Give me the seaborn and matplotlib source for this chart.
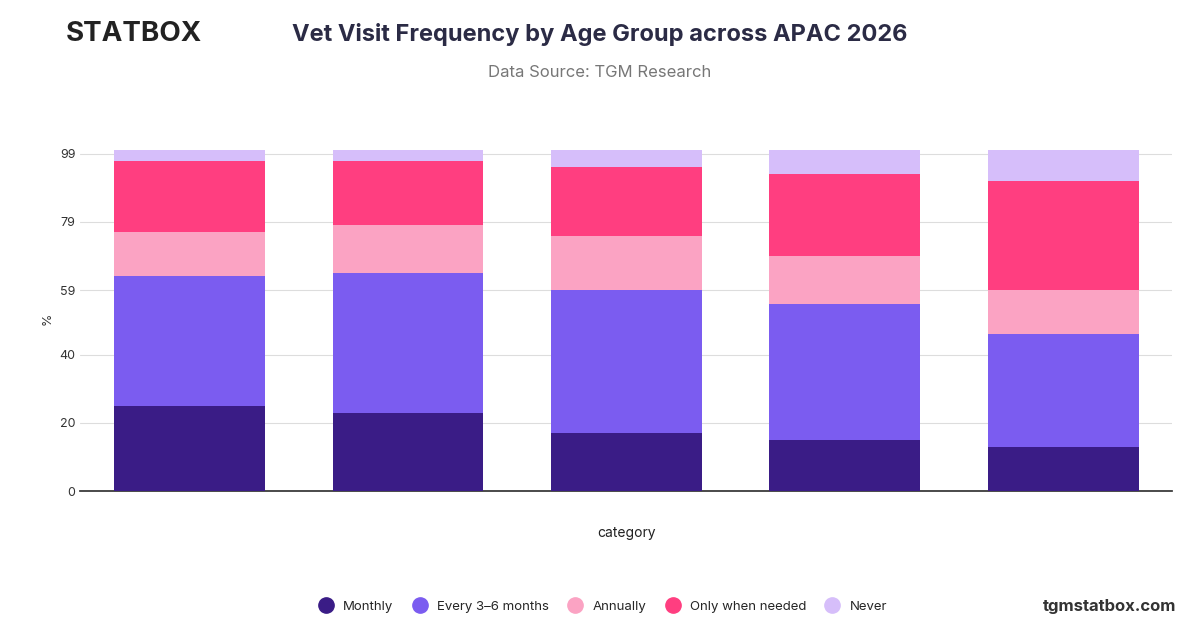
import matplotlib
matplotlib.use("Agg")
import matplotlib.pyplot as plt
import seaborn as sns
import numpy as np
from matplotlib.lines import Line2D

sns.set_theme(style="white")
plt.rcParams['font.family'] = ['Inter', 'DejaVu Sans']

categories = ["A", "B", "C", "D", "E"]
series = ["Monthly", "Every 3–6 months", "Annually", "Only when needed", "Never"]
monthly = [25, 23, 17, 15, 13]
every = [38, 41, 42, 40, 33]
annually = [13, 14, 16, 14, 13]
only_needed = [21, 19, 20, 24, 32]
never = [3, 3, 5, 7, 9]
colors = ["#3a1c86", "#7b5cf0", "#fba3c3", "#ff3e80", "#d6befa"]
yticks = [0, 20, 40, 59, 79, 99]

vals = [monthly, every, annually, only_needed, never]
fig = plt.figure(figsize=(12, 6.28), dpi=100)
ax = fig.add_axes([0.067, 0.218, 0.91, 0.548])
bottom = np.zeros(len(categories))
for name, v, c in zip(series, vals, colors):
    ax.bar(categories, v, bottom=bottom, color=c, width=0.69, label=name, zorder=3, linewidth=0)
    bottom += np.array(v)
ax.set_ylim(0, 101)
ax.set_xlim(-0.5, 4.5)
ax.set_yticks(yticks)
ax.set_yticklabels([str(t) for t in yticks], fontsize=9, color="#333")
ax.set_xticks([])
ax.set_xlabel("category", fontsize=10, color="#222", labelpad=25)
ax.set_ylabel("%", fontsize=9, color="#333")
ax.yaxis.grid(True, color="#dddddd", lw=0.8, zorder=0)
for s in ["top", "right", "left"]:
    ax.spines[s].set_visible(False)
ax.spines["bottom"].set_color("#333")
ax.tick_params(axis="y", length=0)

fig.text(0.5, 0.935, "Vet Visit Frequency by Age Group across APAC 2026", ha="center",
         fontsize=17, fontweight="bold", color="#2b2b45")
fig.text(0.5, 0.878, "Data Source: TGM Research", ha="center", fontsize=12, color="#777")
fig.text(0.055, 0.935, "STATBOX", ha="left", fontsize=20, fontweight="bold", color="#222")
fig.text(0.98, 0.027, "tgmstatbox.com", ha="right", fontsize=12, fontweight="bold", color="#333")
handles = [Line2D([], [], marker="o", ls="", markersize=11, color=c) for c in colors]
fig.legend(handles, series, loc="lower center", bbox_to_anchor=(0.5, 0.005), ncol=5,
           frameon=False, fontsize=9.5, handletextpad=0.3, columnspacing=1.0)
fig.savefig("out.png", dpi=100)
